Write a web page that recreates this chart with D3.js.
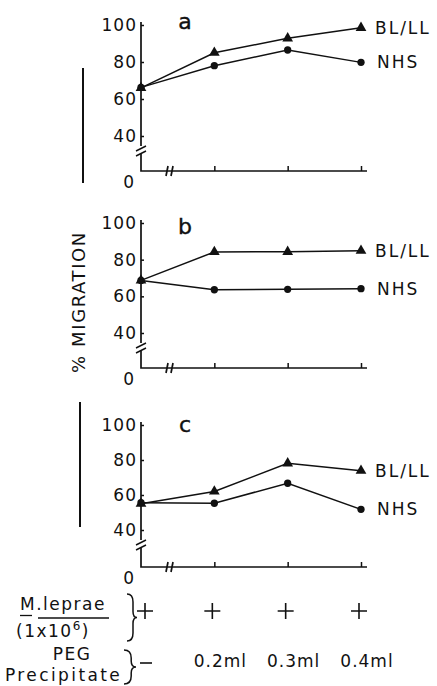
<!DOCTYPE html>
<html>
<head>
<meta charset="utf-8">
<script src="https://cdn.jsdelivr.net/npm/d3@7"></script>
<style>
body { margin: 0; background: #fff; }
text { font-family: "DejaVu Sans", sans-serif; fill: #111; }
</style>
</head>
<body>
<svg id="canvas" width="437" height="686"></svg>
<script>
// data
var conditions = ['none', '0.2ml', '0.3ml', '0.4ml'];
var mLeprae = ['+', '+', '+', '+'];
var pegLabels = ['\u2013', '0.2ml', '0.3ml', '0.4ml'];
var panelNames = ['a', 'b', 'c'];
var yTicks = [0, 40, 60, 80, 100];
var seriesNames = ['BL/LL', 'NHS'];
var blllA = [66, 85, 92.8, 98.5];
var nhsA = [66.3, 78, 86.5, 79.8];
var blllB = [68.7, 84.2, 84.3, 84.9];
var nhsB = [68.7, 63.6, 63.8, 64.2];
var blllC = [55, 62, 78.1, 73.9];
var nhsC = [55.6, 55.3, 66.7, 51.8];

var panelData = [[blllA, nhsA], [blllB, nhsB], [blllC, nhsC]];

// layout of the three stacked panels
var top100 = [25, 223, 425];
var y40 = [136, 333, 530];
var zeroY = [171, 368, 567];
var letterY = [29, 234, 432];

var svg = d3.select('#canvas');
svg.append('rect').attr('width', 437).attr('height', 686).attr('fill', '#fff');

var x = d3.scalePoint().domain(conditions).range([141, 361]);

// margin marks on the scan
svg.append('line').attr('x1', 83).attr('x2', 83).attr('y1', 68).attr('y2', 183)
    .attr('stroke', '#111').attr('stroke-width', 2);
svg.append('line').attr('x1', 80).attr('x2', 80).attr('y1', 402).attr('y2', 527)
    .attr('stroke', '#111').attr('stroke-width', 2);

svg.append('text')
    .attr('transform', 'translate(85,302) rotate(-90)')
    .attr('text-anchor', 'middle')
    .attr('font-size', 18)
    .attr('letter-spacing', 1.6)
    .text('% MIGRATION');

panelNames.forEach(function(name, i) {
    var y = d3.scaleLinear().domain([0, 40, 100]).range([zeroY[i], y40[i], top100[i]]);
    var g = svg.append('g');
    var x0 = x(conditions[0]);
    var xEnd = x(conditions[3]) + 6;

    // y axis with a break between 0 and 40
    g.append('path')
        .attr('d', 'M' + x0 + ',' + (y(100) - 3) + 'V' + (y(40) + 10) +
            'M' + x0 + ',' + (y(40) + 18) + 'V' + y(0) + 'H' + xEnd)
        .attr('fill', 'none').attr('stroke', '#111').attr('stroke-width', 1.7);
    [0, 5].forEach(function(off) {
        g.append('line')
            .attr('x1', x0 - 5).attr('y1', y(40) + 15 + off)
            .attr('x2', x0 + 5).attr('y2', y(40) + 10 + off)
            .attr('stroke', '#111').attr('stroke-width', 1.5);
    });
    // x axis break
    [26, 31].forEach(function(off) {
        g.append('line')
            .attr('x1', x0 + off - 1).attr('y1', y(0) + 5)
            .attr('x2', x0 + off + 1).attr('y2', y(0) - 5)
            .attr('stroke', '#111').attr('stroke-width', 1.7);
    });

    var yAxis = g.append('g')
        .attr('transform', 'translate(' + x0 + ',0)')
        .call(d3.axisLeft(y).tickValues(yTicks).tickSizeInner(-3).tickSizeOuter(0).tickPadding(4));
    yAxis.select('.domain').remove();
    yAxis.selectAll('line').attr('stroke', '#111').attr('stroke-width', 1.5);
    yAxis.selectAll('text')
        .attr('font-family', '"DejaVu Sans", sans-serif')
        .attr('font-size', 17)
        .attr('letter-spacing', 1)
        .attr('fill', '#111');
    yAxis.selectAll('.tick').filter(function(d) { return d === 0; })
        .call(function(t) {
            t.select('line').remove();
            t.select('text').attr('dy', '0.95em').attr('x', -6);
        });

    var xAxis = g.append('g')
        .attr('transform', 'translate(0,' + y(0) + ')')
        .call(d3.axisBottom(x).tickValues(conditions.slice(1)).tickSizeInner(-5).tickSizeOuter(0).tickFormat(''));
    xAxis.select('.domain').remove();
    xAxis.selectAll('line').attr('stroke', '#111').attr('stroke-width', 1.5);

    g.append('text')
        .attr('x', 185).attr('y', letterY[i])
        .attr('text-anchor', 'middle')
        .attr('font-size', 22)
        .attr('stroke', '#111').attr('stroke-width', 0.4)
        .text(name);

    var line = d3.line()
        .x(function(d, j) { return x(conditions[j]); })
        .y(function(d) { return y(d); });

    panelData[i].forEach(function(vals, s) {
        g.append('path')
            .attr('d', line(vals))
            .attr('fill', 'none').attr('stroke', '#111').attr('stroke-width', 1.5);
        var sym = s === 0 ? d3.symbolTriangle : d3.symbolCircle;
        g.selectAll(null).data(vals).enter().append('path')
            .attr('transform', function(d, j) { return 'translate(' + x(conditions[j]) + ',' + y(d) + ')'; })
            .attr('d', d3.symbol().type(sym).size(s === 0 ? 50 : 42))
            .attr('fill', '#111');
        g.append('text')
            .attr('x', x(conditions[3]) + (s === 0 ? 14 : 16))
            .attr('y', y(vals[3]))
            .attr('dy', '0.36em')
            .attr('font-size', 17)
            .attr('letter-spacing', 2)
            .text(seriesNames[s]);
    });
});

// condition table below the panels
var bottom = svg.append('g');
bottom.append('text').attr('x', 20).attr('y', 610).attr('font-size', 17).attr('letter-spacing', 1.5).text('M.leprae');
bottom.append('line').attr('x1', 20).attr('x2', 32).attr('y1', 615.5).attr('y2', 615.5).attr('stroke', '#111').attr('stroke-width', 1.3);
bottom.append('line').attr('x1', 38).attr('x2', 109).attr('y1', 618).attr('y2', 618).attr('stroke', '#111').attr('stroke-width', 1.3);
var t = bottom.append('text').attr('x', 16).attr('y', 637).attr('font-size', 17).attr('letter-spacing', 1.5);
t.append('tspan').text('(1x10');
t.append('tspan').attr('dy', -7).attr('font-size', 12).text('6');
t.append('tspan').attr('dy', 7).text(')');
bottom.append('text').attr('x', 72).attr('y', 660).attr('text-anchor', 'middle').attr('font-size', 17).attr('letter-spacing', 1.5).text('PEG');
bottom.append('text').attr('x', 5).attr('y', 681).attr('font-size', 17).attr('letter-spacing', 2.4).text('Precipitate');

function brace(x0, y0, y1, w) {
    var m = (y0 + y1) / 2;
    return 'M' + x0 + ',' + y0 + ' Q' + (x0 + w * 0.6) + ',' + y0 + ' ' + (x0 + w * 0.6) + ',' + (y0 + 8) +
        ' V' + (m - 6) + ' Q' + (x0 + w * 0.6) + ',' + m + ' ' + (x0 + w) + ',' + m +
        ' Q' + (x0 + w * 0.6) + ',' + m + ' ' + (x0 + w * 0.6) + ',' + (m + 6) +
        ' V' + (y1 - 8) + ' Q' + (x0 + w * 0.6) + ',' + y1 + ' ' + x0 + ',' + y1;
}
bottom.append('path').attr('d', brace(127, 594, 641, 10)).attr('fill', 'none').attr('stroke', '#111').attr('stroke-width', 1.5);
bottom.append('path').attr('d', brace(124, 650, 684, 12)).attr('fill', 'none').attr('stroke', '#111').attr('stroke-width', 1.5);

mLeprae.forEach(function(sign, j) {
    var cx = j === 0 ? x(conditions[j]) + 4 : x(conditions[j]) - 2;
    bottom.append('path')
        .attr('d', 'M' + (cx - 8) + ',611H' + (cx + 8) + 'M' + cx + ',603V619')
        .attr('stroke', '#111').attr('stroke-width', 1.6);
});
pegLabels.forEach(function(lbl, j) {
    if (j === 0) {
        bottom.append('line').attr('x1', x(conditions[0]) - 1).attr('x2', x(conditions[0]) + 11)
            .attr('y1', 663).attr('y2', 663).attr('stroke', '#111').attr('stroke-width', 1.6);
        return;
    }
    bottom.append('text')
        .attr('x', x(conditions[j]) + 6)
        .attr('y', 667)
        .attr('text-anchor', 'middle')
        .attr('font-size', 17)
        .attr('letter-spacing', 1)
        .text(lbl);
});
</script>
</body>
</html>
